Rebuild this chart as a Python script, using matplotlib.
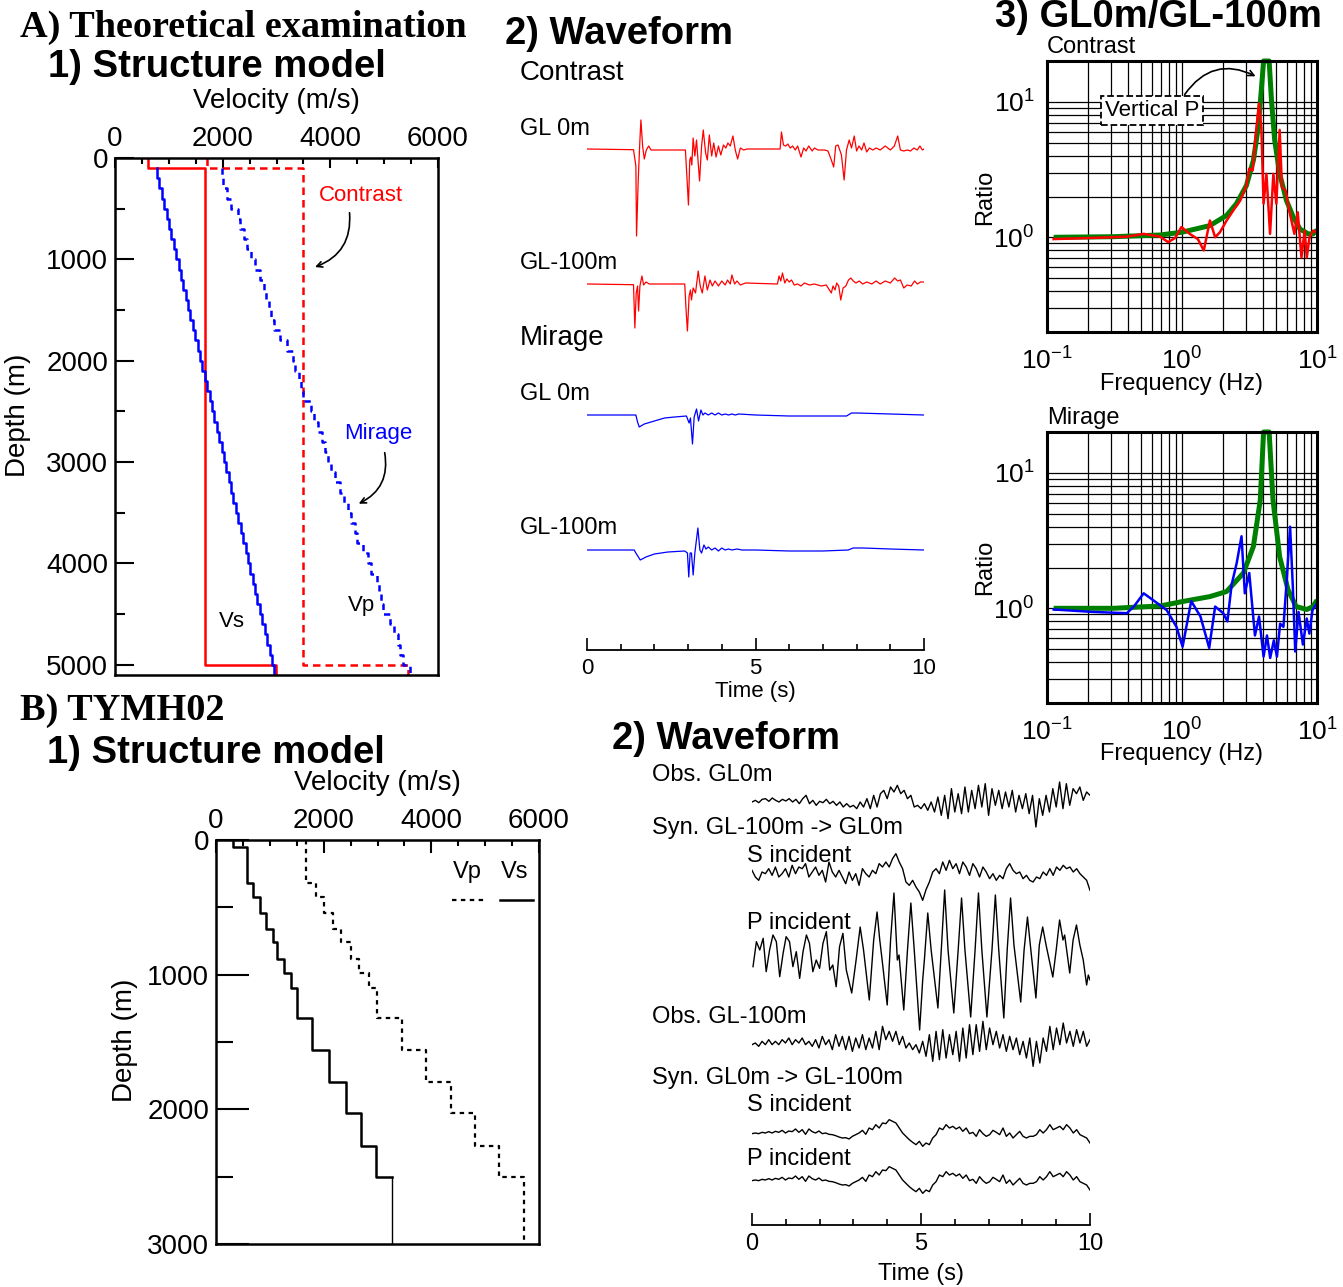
"""
Theoretical examination / TYMH02: structure models, waveforms and spectral ratios.
"""

import numpy as np
import matplotlib.pyplot as plt
from matplotlib.ticker import MultipleLocator, NullFormatter

plt.rcParams['font.family'] = ['Liberation Sans', 'DejaVu Sans']
plt.rcParams['mathtext.fontset'] = 'custom'
plt.rcParams['mathtext.rm'] = 'Liberation Sans'
plt.rcParams['mathtext.it'] = 'Liberation Sans:italic'
plt.rcParams['mathtext.bf'] = 'Liberation Sans:bold'

W, H = 1343, 1287

# ---------------------------------------------------------------- data
# A-1) structure models (layer top depth in m, velocity in m/s)
contrast_tops = [0, 100, 5000]
contrast_vs = [620, 1670, 2990]
contrast_vp = [1700, 3500, 5440]

mirage_tops = np.arange(100, 5001, 100)
mirage_vs = [780, 825, 870, 915, 960, 1000, 1045, 1090, 1135, 1180,
             1225, 1270, 1315, 1360, 1400, 1445, 1490, 1535, 1580, 1625,
             1670, 1715, 1760, 1800, 1845, 1890, 1935, 1980, 2025, 2070,
             2115, 2160, 2200, 2245, 2290, 2335, 2380, 2425, 2470, 2515,
             2560, 2600, 2645, 2690, 2735, 2780, 2825, 2870, 2915, 2960]
mirage_vp = [1980, 2000, 2080, 2150, 2290, 2330, 2400, 2450, 2520, 2600,
             2700, 2760, 2800, 2860, 2900, 2950, 3060, 3190, 3300, 3350,
             3420, 3450, 3500, 3640, 3700, 3770, 3850, 3900, 3950, 4020,
             4080, 4180, 4250, 4330, 4380, 4450, 4500, 4600, 4700, 4760,
             4860, 4900, 4950, 4980, 5100, 5190, 5250, 5300, 5350, 5480]

# A-2) synthetic waveforms (time in s, amplitude in plot pixels)
c0_t = [0, 1.38, 1.45, 1.47, 1.52, 1.57, 1.60, 1.65, 1.70, 1.76,
        1.83, 1.90, 2.92, 2.97, 3.01, 3.05, 3.08, 3.11, 3.15, 3.20,
        3.25, 3.34, 3.40, 3.45, 3.52, 3.57, 3.63, 3.70, 3.76, 3.83,
        3.90, 3.97, 4.05, 4.12, 4.18, 4.25, 4.33, 4.40, 4.47, 4.55,
        4.65, 4.75, 5.73, 5.77, 5.83, 5.90, 5.96, 6.03, 6.10, 6.18,
        6.25, 6.35, 6.43, 6.50, 6.58, 6.68, 6.75, 6.85, 6.95, 7.05,
        7.15, 7.25, 7.32, 7.38, 7.45, 7.55, 7.63, 7.70, 7.78, 7.85,
        7.93, 8.00, 8.07, 8.15, 8.22, 8.30, 8.38, 8.48, 8.58, 8.70,
        8.85, 9.00, 9.12, 9.22, 9.30, 9.40, 9.50, 9.60, 9.70, 9.80,
        9.88, 9.95, 10.0]
c0_a = [0, -0.7, -17, -87, -31, 9, 29, 3, -10, -1,
        3, -1, -1, -31, -56, -11, -8, -16, 11, -7,
        9, -32, 3, 19, -4, -11, 14, -7, 6, -8,
        3, -6, 4, 1, 6, 3, 13, -1, -10, 1,
        -1, 0, 0, 17, 4, 3, 5, 1, 3, -1,
        3, -8, 1, -2, 3, -2, 1, -1, -1, -1,
        -2, -11, -18, 3, 4, -6, -31, -1, 9, 1,
        13, -2, 3, -1, 6, -3, 1, -1, 1, -1,
        3, -1, 3, 13, -1, -2, -1, -2, 1, -1,
        3, -1, 0]

c1_t = [0, 1.38, 1.42, 1.46, 1.50, 1.53, 1.57, 1.63, 1.68, 1.75,
        1.85, 2.90, 2.94, 2.98, 3.03, 3.07, 3.10, 3.15, 3.22, 3.30,
        3.36, 3.42, 3.50, 3.57, 3.65, 3.72, 3.80, 3.90, 4.00, 4.10,
        4.17, 4.25, 4.30, 4.38, 4.45, 4.55, 4.70, 5.65, 5.70, 5.75,
        5.80, 5.87, 5.93, 6.00, 6.07, 6.15, 6.25, 6.35, 6.45, 6.60,
        6.75, 6.95, 7.10, 7.25, 7.30, 7.36, 7.41, 7.47, 7.53, 7.60,
        7.68, 7.76, 7.83, 7.90, 7.98, 8.08, 8.18, 8.30, 8.45, 8.58,
        8.70, 8.85, 9.00, 9.13, 9.22, 9.30, 9.40, 9.50, 9.62, 9.72,
        9.80, 9.90, 10.0]
c1_a = [0, -0.7, -44, -9, -2, -27, -2, 8, -1, 2,
        0, 0, -26, -47, -12, -6, -16, -4, -9, 13,
        -2, -9, 8, -6, 4, -2, 3, -2, 3, -1,
        4, 0, 9, 0, 3, -1, 1, 0, 8, 3,
        11, 1, 5, 2, 4, -1, 0, -2, 1, -1,
        0, -2, -1, -9, -2, -6, 1, -2, -16, -4,
        -2, 4, 6, 3, 1, 3, 0, 2, 0, 3,
        0, 3, 1, 6, 3, 4, -4, -1, -2, 3,
        0, 2, 2]

m0_t = [0, 1.45, 1.50, 1.55, 1.70, 2.0, 2.3, 2.6, 2.95, 3.03,
        3.07, 3.13, 3.18, 3.25, 3.31, 3.38, 3.44, 3.50, 3.60, 3.70,
        3.80, 3.90, 4.00, 4.10, 4.20, 4.30, 4.40, 4.50, 5.0, 6.0,
        7.0, 7.7, 7.85, 8.0, 9.0, 10.0]
m0_a = [0, 0, -7, -12, -9, -6, -3, -2, -1, -8,
        -3, -29, -2, 6, -6, 5, 0, 2, 0, 2,
        0, 2, 0, 1, 0, 1, 0, 1, 0, -1,
        -1, -1, 2, 2, 1, 0]

m1_t = [0, 1.40, 1.45, 1.58, 1.75, 2.0, 2.4, 2.9, 2.98, 3.02,
        3.06, 3.10, 3.15, 3.20, 3.29, 3.35, 3.40, 3.47, 3.53, 3.60,
        3.70, 3.80, 3.90, 4.00, 4.10, 4.20, 4.30, 4.45, 4.60, 5.0,
        6.0, 7.0, 7.75, 7.90, 8.2, 9.0, 10.0]
m1_a = [0, 0, -3, -10, -7, -4, -2, -1, -3, -27,
        -3, -3, -25, -3, 22, 0, -3, 5, 1, 3,
        0, 2, -1, 2, 0, 1, 0, 1, 0, 0,
        -1, -1, 0, 2, 2, 1, 0]

# A-3) spectral ratio GL0m/GL-100m (frequency in Hz)
gc_f = [0.112, 0.31, 0.69, 1.0, 1.61, 2.14, 2.53, 3.0, 3.38, 3.67, 3.87,
        4.02, 4.42, 4.6, 4.86, 5.29, 5.94, 6.67, 7.48, 8.6, 9.35, 10.0]
gc_r = [1.0, 1.01, 1.04, 1.09, 1.22, 1.45, 1.77, 2.41, 3.7, 6.5, 12.2,
        20, 20, 10.3, 5.2, 2.94, 1.87, 1.41, 1.15, 1.06, 1.06, 1.13]
rc_f = [0.112, 0.22, 0.39, 0.52, 0.69, 0.79, 0.89, 0.99, 1.14, 1.31,
        1.45, 1.61, 1.76, 1.91, 2.14, 2.40, 2.70, 3.0, 3.15, 3.34,
        3.52, 3.72, 3.87, 4.02, 4.22, 4.49, 4.75, 5.0, 5.29, 5.5,
        5.84, 6.3, 6.8, 7.2, 7.67, 8.1, 8.4, 8.8, 9.35, 10.0]
rc_r = [0.97, 0.99, 1.01, 1.06, 1.01, 0.92, 0.99, 1.19, 1.06, 0.97,
        0.80, 1.33, 1.0, 1.09, 1.33, 1.58, 1.87, 2.41, 3.21, 3.12,
        5.8, 9.7, 6.5, 1.77, 2.94, 1.06, 2.94, 1.77, 6.2, 2.34,
        2.22, 1.49, 1.06, 1.53, 0.71, 1.12, 0.71, 1.0, 1.12, 1.09]
gm_f = [0.112, 0.31, 0.69, 1.0, 1.61, 2.14, 2.85, 3.38, 3.8,
        4.02, 4.42, 4.72, 5.29, 6.1, 7.0, 8.4, 9.35, 10.0]
gm_r = [1.0, 1.0, 1.04, 1.12, 1.22, 1.33, 1.82, 2.86, 6.3,
        20, 20, 6.3, 2.4, 1.37, 1.03, 0.98, 1.03, 1.15]
bm_f = [0.112, 0.22, 0.39, 0.44, 0.52, 0.61, 0.77, 0.91, 1.01, 1.17,
        1.37, 1.59, 1.76, 2.02, 2.17, 2.33, 2.54, 2.76, 2.92, 3.15,
        3.47, 3.72, 4.02, 4.26, 4.5, 4.79, 5.05, 5.33, 5.64, 5.96,
        6.32, 6.62, 6.9, 7.3, 7.86, 8.4, 8.78, 9.26, 10.0]
bm_r = [0.98, 0.94, 0.92, 1.03, 1.29, 1.15, 0.97, 0.73, 0.52, 1.13,
        0.87, 0.51, 1.03, 0.92, 0.80, 1.49, 2.15, 3.4, 1.29, 1.82,
        0.63, 0.87, 0.44, 0.63, 0.43, 0.58, 0.44, 0.77, 0.73, 1.58,
        4.0, 1.45, 0.48, 0.94, 0.54, 0.84, 0.65, 0.97, 1.09]

# B-1) TYMH02 layered model
tymh_tops = [0, 50, 320, 420, 540, 660, 760, 880, 990, 1100,
             1320, 1560, 1800, 2030, 2270, 2500]
tymh_vs = [320, 570, 690, 820, 920, 1050, 1140, 1260, 1390, 1500,
           1790, 2100, 2410, 2690, 2980, 3270]
tymh_vp = [1680, 1680, 1860, 2000, 2180, 2330, 2500, 2660, 2850, 2990,
           3450, 3910, 4360, 4810, 5260, 5720]

# B-2) observed / synthetic records, 0-10 s (relative amplitude)
obs_gl0 = [0, 5, -2, 8, 10, 2, 12, 5, 0, 8,
           3, 10, 0, 8, -5, 10, 20, -5, 5, -10,
           2, -2, 8, -5, 2, -10, 0, -15, -5, -15,
           -10, -20, 0, -15, 10, -20, 20, -15, 25, 35,
           10, 45, 30, 50, 25, 35, 10, 20, -15, -10,
           -20, -5, -25, 0, -30, 15, -40, 20, -50, 40,
           -30, 25, -35, 45, -30, 35, -20, 50, -15, 55,
           -40, 40, -10, 35, -20, 30, -15, 35, -30, 20,
           -20, 25, -35, 20, -75, 10, -40, 20, -30, 40,
           -15, 60, -20, 55, -10, 40, 25, 45, 5, 30, 20]
syn_gl0_s = [8, -12, -22, 3, -2, 13, -7, 18, -12, -2,
             13, -12, 23, -2, 18, 13, 28, -12, 3, 18,
             -7, 8, -27, 33, 3, -12, 8, -12, -32, 3,
             -22, -2, -37, 13, -2, -12, 8, -2, 28, 18,
             33, 18, 43, 58, 33, 13, -27, -37, -22, -42,
             -57, -82, -50, -27, 3, 13, -2, 33, 8, 38,
             13, 28, -2, 33, 18, -7, 28, 13, -12, 18,
             3, -17, -2, -22, -7, -17, 13, 28, 8, -2,
             3, -17, -7, -22, -27, -12, -17, 3, -7, 13,
             -7, 18, 8, 23, 13, 18, 3, 13, -2, -12,
             -22, -52]
syn_gl0_p_t = [0.03, 0.13, 0.23, 0.33, 0.42, 0.52, 0.62, 0.72, 0.82, 0.92,
               1.01, 1.11, 1.21, 1.31, 1.41, 1.51, 1.61, 1.70, 1.80, 1.90,
               2.00, 2.10, 2.20, 2.30, 2.39, 2.49, 2.59, 2.69, 2.79, 2.95,
               3.08, 3.2, 3.3, 3.47, 3.6, 3.7, 3.78, 3.85, 4.0, 4.1,
               4.2, 4.3, 4.35, 4.49, 4.6, 4.7, 4.8, 4.96, 5.05, 5.1,
               5.2, 5.3, 5.5, 5.6, 5.7, 5.8, 5.97, 6.1, 6.2, 6.3,
               6.47, 6.6, 6.7, 6.8, 6.95, 7.1, 7.2, 7.3, 7.45, 7.55,
               7.65, 7.75, 7.95, 8.05, 8.15, 8.25, 8.4, 8.5, 8.6, 8.7,
               8.9, 9.0, 9.1, 9.2, 9.25, 9.4, 9.5, 9.6, 9.7, 9.8,
               9.9, 9.95, 10.0]
syn_gl0_p = [-20, 55, 30, 65, -35, 30, 75, 55, -50, 20,
             70, 55, -20, 25, -55, 25, 75, 50, -35, 0,
             -25, 50, 85, -30, -15, -80, 40, 80, -30, -99,
             0, 99, 30, -120, 60, 144, 60, 0, -135, 60,
             201, 0, 15, -150, 30, 171, 30, -210, -60, 0,
             141, 30, -144, 30, 210, 30, -159, 30, 186, 30,
             -171, 30, 201, 30, -171, 30, 195, 30, -174, 30,
             186, 45, -126, 30, 129, 30, -114, 45, 99, 45,
             -51, 30, 120, 60, 75, -39, 60, 105, 45, 0,
             -75, -45, -60]
obs_gl100 = [-5, 0, -10, 5, -5, 10, -5, 5, -5, 10,
             0, 15, -5, 10, 0, 15, -5, 5, -10, 10,
             -15, 20, -5, 10, -20, 25, -10, 20, -20, 20,
             -25, 15, -15, 25, -20, 15, -15, 35, -20, 50,
             10, 35, 5, 35, -5, 20, -15, 0, -20, -5,
             -30, 5, -40, 25, -55, 35, -50, 40, -45, 25,
             -35, 35, -55, 45, -45, 55, -35, 55, -25, 65,
             -20, 45, -5, 35, -15, 25, -25, 20, -20, 15,
             -35, 5, -45, 15, -70, 5, -60, 15, -25, 50,
             -20, 45, -5, 60, 0, 35, -10, 40, 0, 35,
             -10, 10]
syn_gl100_s = [-2, 0, -2, 2, 0, 4, 0, 5, 2, 8,
               0, 6, 4, 12, 2, 10, -4, 12, 4, 0,
               6, -2, 0, -4, -5, -8, -12, -15, -14, -18,
               -10, -5, 0, 8, -4, 15, 10, 25, 15, 30,
               28, 40, 35, 30, 15, 0, -10, -20, -28, -35,
               -25, -40, -30, -35, -15, -5, 15, 10, 25, 15,
               20, 12, 18, 5, 15, -2, 2, -10, 10, -2,
               -10, -5, 8, 2, -5, 15, -10, 0, -15, -5,
               5, -10, -15, -10, -10, -5, 10, 0, 10, 25,
               10, 15, 20, 10, 25, 15, 0, 10, -5, -10,
               -15, -30]
# P and S incident at GL-100m are indistinguishable in the figure
syn_gl100_p = list(syn_gl100_s)


# ---------------------------------------------------------------- helpers
def px_axes(fig, left, top, right, bottom):
    return fig.add_axes([left / W, 1 - bottom / H, (right - left) / W, (bottom - top) / H])


def ftext(fig, x, y, s, **kw):
    kw.setdefault('ha', 'left')
    kw.setdefault('va', 'center')
    fig.text(x / W, 1 - y / H, s, **kw)


def staircase(tops, vals, bottom):
    edges = list(tops[1:]) + [bottom]
    v, d = [], []
    for t, b, val in zip(tops, edges, vals):
        v += [val, val]
        d += [t, b]
    return v, d


def model_axes(ax, ymax, ymaj, ymin, ylen, xlen):
    ax.set_xlim(0, 6000)
    ax.set_ylim(ymax, 0)
    ax.xaxis.set_major_locator(MultipleLocator(2000))
    ax.xaxis.set_minor_locator(MultipleLocator(500))
    ax.yaxis.set_major_locator(MultipleLocator(ymaj))
    ax.yaxis.set_minor_locator(MultipleLocator(ymin))
    ax.tick_params(axis='x', which='both', top=True, bottom=False, labeltop=True,
                   labelbottom=False, direction='in', width=1.5, labelsize=20, pad=4)
    ax.tick_params(axis='x', which='major', length=xlen[0])
    ax.tick_params(axis='x', which='minor', length=xlen[1])
    ax.tick_params(axis='y', which='both', left=True, right=False, direction='in',
                   width=1.5, labelsize=20, pad=5)
    ax.tick_params(axis='y', which='major', length=ylen[0])
    ax.tick_params(axis='y', which='minor', length=ylen[1])
    for sp in ax.spines.values():
        sp.set_linewidth(1.8)


def time_axes(ax, top, bottom):
    ax.set_xlim(0, 10)
    ax.set_ylim(bottom, top)
    for s in ['top', 'right', 'left']:
        ax.spines[s].set_visible(False)
    ax.spines['bottom'].set_linewidth(1.3)
    ax.set_yticks([])
    ax.xaxis.set_major_locator(MultipleLocator(5))
    ax.xaxis.set_minor_locator(MultipleLocator(1))
    ax.tick_params(axis='x', which='both', direction='in', width=1.2, labelsize=16, pad=6)
    ax.tick_params(axis='x', which='major', length=9)
    ax.tick_params(axis='x', which='minor', length=4)
    ax.patch.set_alpha(0)


def ratio_axes(ax):
    ax.set_xscale('log')
    ax.set_yscale('log')
    ax.set_xlim(0.1, 10)
    ax.set_ylim(0.2, 20)
    ax.grid(True, which='both', color='black', lw=0.9)
    ax.set_xticks([0.1, 1, 10], [r'$10^{-1}$', r'$10^{0}$', r'$10^{1}$'])
    ax.set_yticks([1, 10], [r'$10^{0}$', r'$10^{1}$'])
    ax.xaxis.set_minor_formatter(NullFormatter())
    ax.yaxis.set_minor_formatter(NullFormatter())
    ax.tick_params(which='both', length=0, labelsize=19)
    ax.tick_params(axis='x', pad=11)
    ax.tick_params(axis='y', pad=9)
    for sp in ax.spines.values():
        sp.set_linewidth(2.2)


fig = plt.figure(figsize=(W / 100, H / 100), dpi=100)

# ---------------------------------------------------------------- titles
serif_b = dict(family='Liberation Serif', fontweight='bold', fontsize=27.5)
ftext(fig, 20, 27, 'A) Theoretical examination', **serif_b)
ftext(fig, 20, 710, 'B) TYMH02', **serif_b)
sans_b = dict(fontweight='bold', fontsize=27.5)
ftext(fig, 48, 67, '1) Structure model', **sans_b)
ftext(fig, 505, 34, '2) Waveform', **sans_b)
ftext(fig, 995, 17, '3) GL0m/GL-100m', **sans_b)
ftext(fig, 47, 753, '1) Structure model', **sans_b)
ftext(fig, 612, 739, '2) Waveform', **sans_b)

# ---------------------------------------------------------------- A-1
ax = px_axes(fig, 115, 158, 438, 675)
model_axes(ax, 5100, 1000, 500, (14, 7), (7, 4))
v, d = staircase(contrast_tops, contrast_vs, 5100)
ax.plot(v, d, color='red', lw=1.8)
v, d = staircase(contrast_tops, contrast_vp, 5100)
ax.plot(v, d, color='red', lw=1.8, ls=(0, (3, 2)))
v, d = staircase(mirage_tops, mirage_vs, 5100)
ax.plot(v, d, color='blue', lw=1.8)
v, d = staircase(mirage_tops, mirage_vp, 5100)
ax.plot(v, d, color='blue', lw=1.8, ls=(0, (2.5, 2)))
ax.text(4574, 365, 'Contrast', color='red', fontsize=16, ha='center', va='center')
ax.annotate('', xy=(3667, 1085), xytext=(4352, 513),
            arrowprops=dict(arrowstyle='->', color='black', lw=1.2,
                            connectionstyle='arc3,rad=-0.4'))
ax.text(4889, 2722, 'Mirage', color='blue', fontsize=16, ha='center', va='center')
ax.annotate('', xy=(4481, 3422), xytext=(5000, 2880),
            arrowprops=dict(arrowstyle='->', color='black', lw=1.2,
                            connectionstyle='arc3,rad=-0.4'))
ax.text(2167, 4576, 'Vs', fontsize=16, ha='center', va='center')
ax.text(4574, 4418, 'Vp', fontsize=16, ha='center', va='center')
ftext(fig, 276, 101, 'Velocity (m/s)', fontsize=20, ha='center')
ftext(fig, 18, 415, 'Depth (m)', fontsize=20, ha='center', rotation=90)

# ---------------------------------------------------------------- A-2
ax = px_axes(fig, 587, 95, 924, 650)
time_axes(ax, 95, 650)
for t, a, base, col in [(c0_t, c0_a, 149, 'red'), (c1_t, c1_a, 284, 'red'),
                        (m0_t, m0_a, 415, 'blue'), (m1_t, m1_a, 550, 'blue')]:
    ax.plot(t, base - np.array(a), color=col, lw=0.9)
ftext(fig, 520, 73, 'Contrast', fontsize=20)
ftext(fig, 520, 129, 'GL 0m', fontsize=17)
ftext(fig, 520, 263, 'GL-100m', fontsize=17)
ftext(fig, 520, 338, 'Mirage', fontsize=20)
ftext(fig, 520, 394, 'GL 0m', fontsize=17)
ftext(fig, 520, 528, 'GL-100m', fontsize=17)
ftext(fig, 755, 692, 'Time (s)', fontsize=16, ha='center')

# ---------------------------------------------------------------- A-3
ax = px_axes(fig, 1047, 61, 1317, 332)
ratio_axes(ax)
ax.plot(gc_f, gc_r, color='green', lw=3.6, clip_on=False, solid_capstyle='butt')
ax.plot(rc_f, rc_r, color='red', lw=1.8)
ax.text(0.60, 8.6, 'Vertical P', fontsize=16, ha='center', va='center',
        bbox=dict(boxstyle='square,pad=0.18', fc='white', ec='black', ls='--', lw=1.3))
ax.annotate('', xy=(3.66, 15.1), xytext=(1.02, 10.9),
            arrowprops=dict(arrowstyle='->', color='black', lw=1.2,
                            connectionstyle='arc3,rad=-0.45'))
ftext(fig, 1047, 47, 'Contrast', fontsize=17)
ftext(fig, 985, 197, 'Ratio', fontsize=17, ha='center', rotation=90)
ftext(fig, 1181, 384, 'Frequency (Hz)', fontsize=17, ha='center')

ax = px_axes(fig, 1047, 432, 1317, 703)
ratio_axes(ax)
ax.plot(gm_f, gm_r, color='green', lw=3.6, clip_on=False, solid_capstyle='butt')
ax.plot(bm_f, bm_r, color='blue', lw=1.8)
ftext(fig, 1047, 418, 'Mirage', fontsize=17)
ftext(fig, 985, 567, 'Ratio', fontsize=17, ha='center', rotation=90)
ftext(fig, 1181, 754, 'Frequency (Hz)', fontsize=17, ha='center')

# ---------------------------------------------------------------- B-1
ax = px_axes(fig, 216, 840, 539, 1244)
model_axes(ax, 3000, 1000, 500, (24, 12), (9, 4))
v, d = staircase(tymh_tops, tymh_vp, 3000)
ax.plot(v, d, color='black', lw=1.6, ls=(0, (2, 2)))
v, d = staircase(tymh_tops, tymh_vs, 3000)
ax.plot(v[:-1], d[:-1], color='black', lw=1.8)
ax.plot(v[-2:], d[-2:], color='black', lw=1.0)  # half-space drawn thin
ax.text(0.777, 0.921, 'Vp', transform=ax.transAxes, fontsize=17, ha='center', va='center')
ax.text(0.926, 0.921, 'Vs', transform=ax.transAxes, fontsize=17, ha='center', va='center')
ax.plot([0.731, 0.836], [0.851, 0.851], transform=ax.transAxes, color='black',
        lw=1.6, ls=(0, (2, 2)))
ax.plot([0.879, 0.981], [0.851, 0.851], transform=ax.transAxes, color='black', lw=1.8)
ftext(fig, 377, 783, 'Velocity (m/s)', fontsize=20, ha='center')
ftext(fig, 125, 1040, 'Depth (m)', fontsize=20, ha='center', rotation=90)

# ---------------------------------------------------------------- B-2
ax = px_axes(fig, 752, 765, 1090, 1225)
time_axes(ax, 765, 1225)
ax.tick_params(axis='x', labelsize=17)
gain = 1 / 3
for tr, base in [(obs_gl0, 802), (syn_gl0_s, 873), (obs_gl100, 1043),
                 (syn_gl100_s, 1133), (syn_gl100_p, 1180)]:
    t = np.linspace(0, 10, len(tr))
    ax.plot(t, base - gain * np.array(tr), color='black', lw=1.0)
ax.plot(syn_gl0_p_t, 960 - gain * np.array(syn_gl0_p), color='black', lw=1.0)
ftext(fig, 652, 775, 'Obs. GL0m', fontsize=17)
ftext(fig, 652, 828, 'Syn. GL-100m -> GL0m', fontsize=17)
ftext(fig, 747, 856, 'S incident', fontsize=17)
ftext(fig, 747, 923, 'P incident', fontsize=17)
ftext(fig, 652, 1017, 'Obs. GL-100m', fontsize=17)
ftext(fig, 652, 1078, 'Syn. GL0m -> GL-100m', fontsize=17)
ftext(fig, 747, 1105, 'S incident', fontsize=17)
ftext(fig, 747, 1159, 'P incident', fontsize=17)
ftext(fig, 921, 1274, 'Time (s)', fontsize=17, ha='center')

fig.savefig('out.png', dpi=100)
print('saved out.png')
